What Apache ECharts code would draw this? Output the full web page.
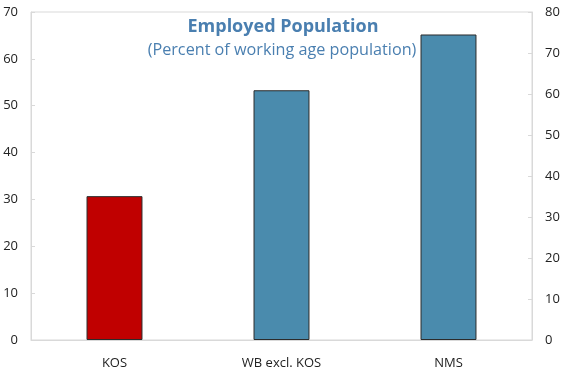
<!DOCTYPE html>
<html><head><meta charset="utf-8">
<script src="https://cdn.jsdelivr.net/npm/echarts@6/dist/echarts.min.js"></script>
<style>html,body{margin:0;padding:0;background:#fff}#c{width:563px;height:370px}</style>
</head><body><div id="c"></div>
<script>
const categories = ["KOS", "WB excl. KOS", "NMS"];
const values = [30.7, 53.3, 65.2];
const barColors = ["#C00000", "#4A8BAD", "#4A8BAD"];
const leftTicks = {min: 0, max: 70, interval: 10};
const rightTicks = {min: 0, max: 80, interval: 10};

const chart = echarts.init(document.getElementById('c'), null, {renderer: 'canvas'});
const font = '"Open Sans", "Noto Sans", sans-serif';
const axisCommon = {
  axisLine: {show: true, lineStyle: {color: '#d9d9d9', width: 1}},
  axisTick: {show: true, inside: true, length: 4, lineStyle: {color: '#d9d9d9'}},
  splitLine: {show: false},
  axisLabel: {color: '#222', fontSize: 13, fontFamily: font, margin: 13}
};
chart.setOption({
  animation: false,
  title: [
    {text: 'Employed Population', left: 278, top: 13, textAlign: 'center',
     textStyle: {color: '#4A7FB0', fontSize: 18, fontWeight: 'bold', fontFamily: font}},
    {text: '(Percent of working age population)', left: 277, top: 37, textAlign: 'center',
     textStyle: {color: '#4A7FB0', fontSize: 16.2, fontWeight: 'normal', fontFamily: font}}
  ],
  grid: {left: 31, right: 31, top: 12, bottom: 29, show: true, borderColor: '#d9d9d9', borderWidth: 1},
  xAxis: {type: 'category', data: categories,
    axisLine: {show: true, lineStyle: {color: '#d9d9d9'}},
    axisTick: {show: false},
    axisLabel: {color: '#222', fontSize: 13, fontFamily: font, margin: 17}},
  yAxis: [
    Object.assign({type: 'value', position: 'left'}, leftTicks, axisCommon),
    Object.assign({type: 'value', position: 'right'}, rightTicks, axisCommon)
  ],
  series: [{
    type: 'bar', yAxisIndex: 0, barWidth: '33.5%',
    data: values.map((v, i) => ({value: v, itemStyle: {color: barColors[i]}})),
    itemStyle: {borderColor: '#2b2b2b', borderWidth: 1}
  }]
});
</script></body></html>
